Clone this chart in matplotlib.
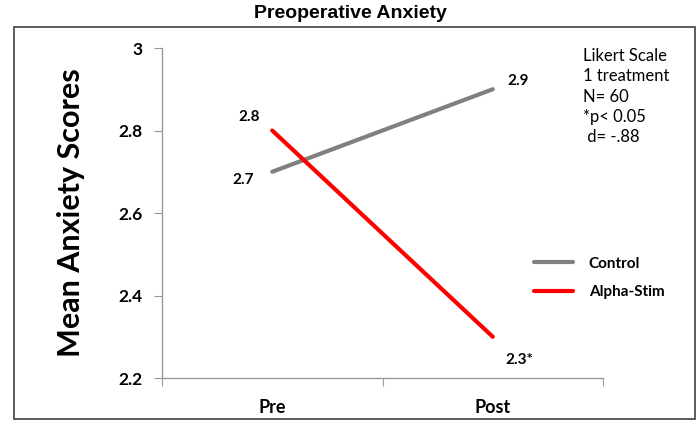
import matplotlib
matplotlib.use("Agg")
import matplotlib.pyplot as plt
from matplotlib.patches import Rectangle

categories = ["Pre", "Post"]
control = [2.7, 2.9]
alpha_stim = [2.8, 2.3]
control_labels = ["2.7", "2.9"]
alpha_labels = ["2.8", "2.3*"]
yticks = [2.2, 2.4, 2.6, 2.8, 3.0]
ytick_labels = ["2.2", "2.4", "2.6", "2.8", "3"]
note = "Likert Scale\n1 treatment\nN= 60\n*p< 0.05\n d= -.88"

plt.rcParams['font.family'] = ['Lato', 'DejaVu Sans']

fig = plt.figure(figsize=(7, 4.21), dpi=100)
ax = fig.add_axes([162/700, 1-378/421, (603-162)/700, (378-48)/421])

x = list(range(len(categories)))
ax.plot(x, control, color="#808080", lw=3, solid_capstyle="round", label="Control")
ax.plot(x, alpha_stim, color="#FF0000", lw=3, solid_capstyle="round", label="Alpha-Stim")

ax.set_xlim(-0.5, 1.5)
ax.set_ylim(2.2, 3.0)
ax.set_yticks(yticks)
ax.set_yticklabels(ytick_labels, fontsize=12.5, fontweight="bold")
ax.set_xticks([-0.5, 0.5, 1.5])
ax.set_xticklabels([])
ax.set_xticks(x, minor=True)
ax.set_xticklabels(categories, minor=True, fontsize=13, fontweight="bold")
ax.tick_params(axis="x", which="minor", length=0, pad=15)
ax.tick_params(axis="x", which="major", length=6, color="#999999", direction="out")
ax.tick_params(axis="y", length=6, color="#999999", direction="out", pad=8)

for s in ["top", "right"]:
    ax.spines[s].set_visible(False)
for s in ["left", "bottom"]:
    ax.spines[s].set_color("#999999")
    ax.spines[s].set_linewidth(1)

# data labels
ax.annotate(control_labels[0], (x[0], control[0]), xytext=(-21, -6), textcoords="offset points",
            ha="center", va="center", fontsize=11, fontweight="bold")
ax.annotate(control_labels[1], (x[1], control[1]), xytext=(18, 6), textcoords="offset points",
            ha="center", va="center", fontsize=11, fontweight="bold")
ax.annotate(alpha_labels[0], (x[0], alpha_stim[0]), xytext=(-17, 10), textcoords="offset points",
            ha="center", va="center", fontsize=11, fontweight="bold")
ax.annotate(alpha_labels[1], (x[1], alpha_stim[1]), xytext=(19, -17), textcoords="offset points",
            ha="center", va="center", fontsize=11, fontweight="bold")

ax.set_ylabel("Mean Anxiety Scores", fontsize=22, fontweight="bold", labelpad=24)

leg = fig.legend(loc="upper left", bbox_to_anchor=(520/700, 1-243/421), frameon=False,
                 prop={"weight": "bold", "size": 11}, handlelength=2.6,
                 labelspacing=0.95, handletextpad=1.0)

fig.text(583/700, 1-48/421, note, ha="left", va="top", fontsize=12, linespacing=1.33)

fig.text(350/700, 1-14/421, "Preoperative Anxiety", ha="center", va="center",
         fontsize=14, fontweight="bold", family=["Liberation Sans", "DejaVu Sans"])

fig.patches.append(Rectangle((14/700, 1-419/421), (695-14)/700, (419-27)/421,
                             transform=fig.transFigure, fill=False, edgecolor="#404040", lw=1.2))

fig.savefig("out.png", dpi=100)
